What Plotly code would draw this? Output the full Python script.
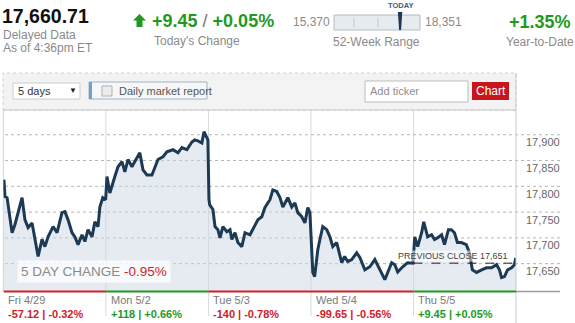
import plotly.graph_objects as go

W, H = 575, 323


def px(x):
    return x / W


def py(y):
    return 1 - y / H


# ---------------- data ----------------
last_price = 17660.71
today_change = 9.45
today_pct = 0.05
wk52_low, wk52_high = 15370, 18351
ytd_pct = 1.35
prev_close = 17651
five_day_pct = -0.95

days = ["Fri 4/29", "Mon 5/2", "Tue 5/3", "Wed 5/4", "Thu 5/5"]
day_change = [-57.12, 118, -140, -99.65, 9.45]
day_pct = [-0.32, 0.66, -0.78, -0.56, 0.05]
y_ticks = [17650, 17700, 17750, 17800, 17850, 17900]
session_minutes = 390

fri_min = [2, 6, 14, 33, 44, 71, 82, 94, 109, 120, 132, 147, 158, 170, 189, 204, 223, 234, 246, 261,
           272, 284, 299, 310, 322, 337, 348, 360, 367, 378, 389]
fri_px = [17813, 17780, 17778, 17710, 17726, 17778, 17735, 17720, 17729, 17700, 17664, 17697, 17683,
          17702, 17722, 17710, 17749, 17751, 17735, 17710, 17702, 17687, 17706, 17693, 17716, 17702,
          17731, 17722, 17760, 17778, 17774]
mon_min = [4, 15, 34, 46, 61, 72, 84, 99, 110, 129, 141, 156, 175, 186, 198, 217, 232, 255, 274, 289,
           308, 327, 338, 350, 365, 373, 388]
mon_px = [17819, 17787, 17819, 17838, 17848, 17828, 17852, 17838, 17848, 17865, 17832, 17822, 17822,
          17836, 17852, 17857, 17867, 17871, 17865, 17875, 17871, 17886, 17890, 17888, 17884, 17906, 17890]
tue_min = [2, 5, 17, 25, 36, 44, 55, 70, 82, 89, 101, 112, 127, 139, 158, 169, 188, 203, 215, 234,
           245, 260, 272, 283, 302, 317, 329, 340, 355, 367, 378, 386]
tue_px = [17774, 17764, 17755, 17722, 17716, 17700, 17722, 17712, 17716, 17697, 17710, 17691, 17683,
          17710, 17706, 17716, 17735, 17741, 17759, 17774, 17793, 17790, 17778, 17760, 17778, 17760,
          17768, 17749, 17741, 17729, 17759, 17749]
wed_min = [3, 7, 14, 26, 34, 45, 60, 72, 83, 98, 117, 128, 140, 155, 174, 186, 205, 224, 243, 262,
           281, 292, 307, 319, 330, 349, 368, 388]
wed_px = [17677, 17633, 17625, 17677, 17697, 17722, 17716, 17702, 17683, 17691, 17652, 17664, 17654,
          17658, 17671, 17662, 17638, 17644, 17658, 17638, 17619, 17633, 17652, 17648, 17634, 17644,
          17652, 17651]
thu_min = [1, 5, 16, 31, 39, 54, 69, 80, 91, 107, 118, 133, 144, 156, 167, 182, 201, 213, 224, 240,
           259, 278, 297, 316, 327, 335, 346, 358, 373, 384, 389]
thu_px = [17683, 17702, 17683, 17710, 17731, 17702, 17706, 17697, 17700, 17706, 17687, 17716, 17716,
          17710, 17691, 17691, 17687, 17671, 17638, 17633, 17638, 17642, 17642, 17648, 17638, 17623,
          17625, 17638, 17642, 17648, 17661]

day_minutes = [fri_min, mon_min, tue_min, wed_min, thu_min]
day_prices = [fri_px, mon_px, tue_px, wed_px, thu_px]

# ---------------- styling ----------------
FONT = "Liberation Sans, Arial, sans-serif"
RED = "#d0202a"
GREEN = "#1f9a1f"
GRAY = "#8a8a8a"
NAVY = "#1c3a54"

xs, ys = [], []
for i, (mins, prices) in enumerate(zip(day_minutes, day_prices)):
    xs += [i * session_minutes + m for m in mins]
    ys += prices

n_days = len(days)
x_end = n_days * session_minutes

fig = go.Figure()
fig.add_trace(go.Scatter(
    x=xs, y=ys, mode="lines",
    line=dict(color=NAVY, width=3),
    fill="tozeroy", fillcolor="rgba(205,216,230,0.5)",
    hoverinfo="skip", showlegend=False,
))

shapes = []
annotations = []


def ann(text, x, y, size, color, xanchor="left", bold=False, **kw):
    if bold:
        text = "<b>" + text + "</b>"
    d = dict(text=text, x=px(x), y=py(y), xref="paper", yref="paper",
             xanchor=xanchor, yanchor="middle", showarrow=False,
             font=dict(family=FONT, size=size, color=color), borderpad=0)
    d.update(kw)
    annotations.append(d)


def rect(x0, y0, x1, y1, fill, line="rgba(0,0,0,0)", width=1, dash="solid", layer="above"):
    shapes.append(dict(type="rect", xref="paper", yref="paper",
                       x0=px(x0), x1=px(x1), y0=py(y1), y1=py(y0),
                       fillcolor=fill, line=dict(color=line, width=width, dash=dash), layer=layer))


def pline(x0, y0, x1, y1, color, width=1, dash="solid", layer="above"):
    shapes.append(dict(type="line", xref="paper", yref="paper",
                       x0=px(x0), x1=px(x1), y0=py(y0), y1=py(y1),
                       line=dict(color=color, width=width, dash=dash), layer=layer))


def path(pts, fill):
    s = "M " + " L ".join(f"{px(a):.5f},{py(b):.5f}" for a, b in pts) + " Z"
    shapes.append(dict(type="path", xref="paper", yref="paper", path=s,
                       fillcolor=fill, line=dict(width=0), layer="above"))


# ---------- header ----------
ann(f"{last_price:,.2f}", 1, 16, 19.5, "#111", bold=True)
ann("Delayed Data", 2, 34.5, 12, GRAY)
ann("As of 4:36pm ET", 2, 47.5, 12, GRAY)

path([(139.5, 14), (146, 20.5), (142.5, 20.5), (142.5, 27), (136.5, 27), (136.5, 20.5), (133, 20.5)], GREEN)
ann(f"<b>{today_change:+.2f}</b> <span style='color:#777'>/</span> <b>{today_pct:+.2f}%</b>",
    151, 21, 18, GREEN)
ann("Today's Change", 153, 41, 12, GRAY)

bar_x0, bar_x1 = 334, 420
ann(f"{wk52_low:,}", 331, 22, 12, GRAY, xanchor="right")
ann(f"{wk52_high:,}", 424, 22, 12, GRAY)
rect(bar_x0, 15, bar_x1, 30, "#e6ebf0", line="#b5bcc4")
pline(354, 18, 354, 27, "#c3c8ce")
pline(378, 18, 378, 27, "#c3c8ce")
needle = bar_x0 + (last_price - wk52_low) / (wk52_high - wk52_low) * (bar_x1 - bar_x0)
path([(needle - 2.2, 12), (needle + 2.2, 12), (needle + 1, 30), (needle - 1, 30)], NAVY)
ann("TODAY", needle, 6, 7.5, "#3d5d7c", xanchor="center", bold=True)
ann("52-Week Range", 377, 42, 12, GRAY, xanchor="center")
ann(f"{ytd_pct:+.2f}%", 540, 22, 18, GREEN, xanchor="center", bold=True)
ann("Year-to-Date", 540, 42, 12, GRAY, xanchor="center")

# ---------- toolbar ----------
rect(3, 73, 516, 110, "#f3f3f3", line="#cfcfcf", dash="dot", layer="below")
pline(3, 110, 516, 110, "#c8c8c8")
rect(13, 83, 80, 99, "#ffffff", line="#cccccc")
ann("5 days", 17, 91, 11, "#333")
ann("▼", 73, 91, 8, "#222", xanchor="center")
rect(89, 82, 207, 99, "#f7f7f7", line="#9fb3c6")
rect(89, 82, 92, 99, "#6aa3cf")
rect(102, 86, 112, 96, "#ececec", line="#b0b0b0")
ann("Daily market report", 118, 91, 11, "#555")
rect(365, 81, 468, 102, "#ffffff", line="#bbbbbb")
ann("Add ticker", 369, 91.5, 11, "#8d8d8d")
rect(472, 82, 509, 100, "#c8161d")
ann("Chart", 490.5, 91, 12, "#ffffff", xanchor="center")

# ---------- chart frame ----------
pline(3.4, 110, 3.4, 291, "#d0d5da", layer="below")
pline(516, 73, 516, 323, "#c6cbd1")
for i in range(1, n_days):
    shapes.append(dict(type="line", xref="x", yref="paper", x0=i * session_minutes, x1=i * session_minutes,
                       y0=py(316), y1=py(110), line=dict(color="#d5dade", width=1), layer="below"))

for v in y_ticks:
    shapes.append(dict(type="line", xref="paper", yref="y", x0=px(5), x1=px(561), y0=v, y1=v,
                       line=dict(color="#b4b4b4", width=1, dash="dot"), layer="below"))

# previous close
shapes.append(dict(type="line", xref="x", yref="y", x0=(n_days - 1) * session_minutes, x1=x_end,
                   y0=prev_close, y1=prev_close, line=dict(color="#222", width=1, dash="dash"), layer="above"))
annotations.append(dict(text=f"PREVIOUS CLOSE {prev_close:,}", x=x_end, y=prev_close, xref="x", yref="y",
                        xanchor="right", yanchor="middle", xshift=-7, yshift=7, showarrow=False,
                        font=dict(family=FONT, size=9, color="#444"), bgcolor="rgba(255,255,255,0.55)",
                        borderpad=0))

# day baseline and labels
for i, (lab, ch, pc) in enumerate(zip(days, day_change, day_pct)):
    col = GREEN if ch >= 0 else RED
    shapes.append(dict(type="line", xref="x", yref="paper", x0=i * session_minutes, x1=(i + 1) * session_minutes,
                       y0=py(291.5), y1=py(291.5), line=dict(color=col, width=2), layer="above"))
    annotations.append(dict(text=lab, x=i * session_minutes, y=py(300), xref="x", yref="paper",
                            xanchor="left", yanchor="middle", xshift=4, showarrow=False,
                            font=dict(family=FONT, size=11, color="#7a7a7a"), borderpad=0))
    annotations.append(dict(text=f"<b>{ch:+g} | {pc:+.2f}%</b>", x=i * session_minutes, y=py(314),
                            xref="x", yref="paper", xanchor="left", yanchor="middle", xshift=4,
                            showarrow=False, font=dict(family=FONT, size=11, color=col), borderpad=0))
pline(516, 291.5, 560, 291.5, "#9a9a9a", width=1.5)

# 5 day change box
ann(f"5 DAY CHANGE <span style='color:{RED}'>{five_day_pct:+.2f}%</span>", 17, 271, 13.5, GRAY,
    bgcolor="rgba(255,255,255,0.72)", borderpad=3)

fig.update_layout(
    width=W, height=H,
    margin=dict(l=0, r=0, t=0, b=0),
    paper_bgcolor="white", plot_bgcolor="white",
    showlegend=False,
    xaxis=dict(domain=[px(3.4), px(516)], range=[0, x_end], visible=False, fixedrange=True),
    yaxis=dict(domain=[py(291), py(110)], range=[17597, 17948], side="right",
               tickvals=y_ticks, ticktext=[f"{v:,}" for v in y_ticks],
               showgrid=False, zeroline=False, showline=False, ticks="",
               ticklabelposition="outside bottom", ticklabelstandoff=9,
               tickfont=dict(family=FONT, size=11, color="#666"), fixedrange=True),
    shapes=shapes, annotations=annotations,
    font=dict(family=FONT),
)

fig.write_html("out.html", config={"displayModeBar": False, "staticPlot": True})
